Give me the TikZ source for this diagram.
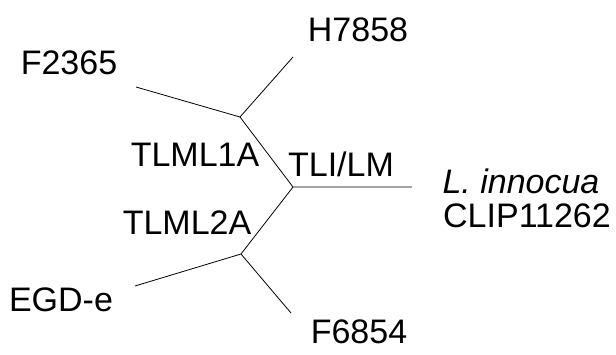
\documentclass[tikz,border=0pt]{standalone}
\usepackage{fontspec}
\setmainfont{Liberation Sans}
\begin{document}
\begin{tikzpicture}[x=1pt,y=-1pt,
  branch/.style={line width=0.8pt, black},
  lbl/.style={inner sep=0pt, font=\fontsize{34}{40}\selectfont}]
\useasboundingbox (0,0) rectangle (616,354);
% internal nodes and leaf ends
\coordinate (up) at (240,117);
\coordinate (mid) at (293,187);
\coordinate (low) at (241,254);
\coordinate (eH) at (293,57);
\coordinate (eF2) at (136,87);
\coordinate (eLi) at (412,187);
\coordinate (eE) at (135,286);
\coordinate (eF6) at (291,313);
% branches
\draw[branch] (eF2) -- (up) -- (eH);
\draw[branch] (up) -- (mid) -- (eLi);
\draw[branch] (mid) -- (low) -- (eE);
\draw[branch] (low) -- (eF6);
% labels
\node[lbl] (H) at (358,30) {H7858};
\node[lbl] (F2) at (69,63) {F2365};
\node[lbl] (T1) at (195,155) {TLML1A};
\node[lbl] (TL) at (341,164) {TLI/LM};
\node[lbl] (Li) at (521,181) {\itshape L. innocua};
\node[lbl] (CL) at (527,216) {CLIP11262};
\node[lbl] (T2) at (187,223) {TLML2A};
\node[lbl] (E) at (61,300) {EGD-e};
\node[lbl] (F6) at (359,332) {F6854};
\end{tikzpicture}
\end{document}
